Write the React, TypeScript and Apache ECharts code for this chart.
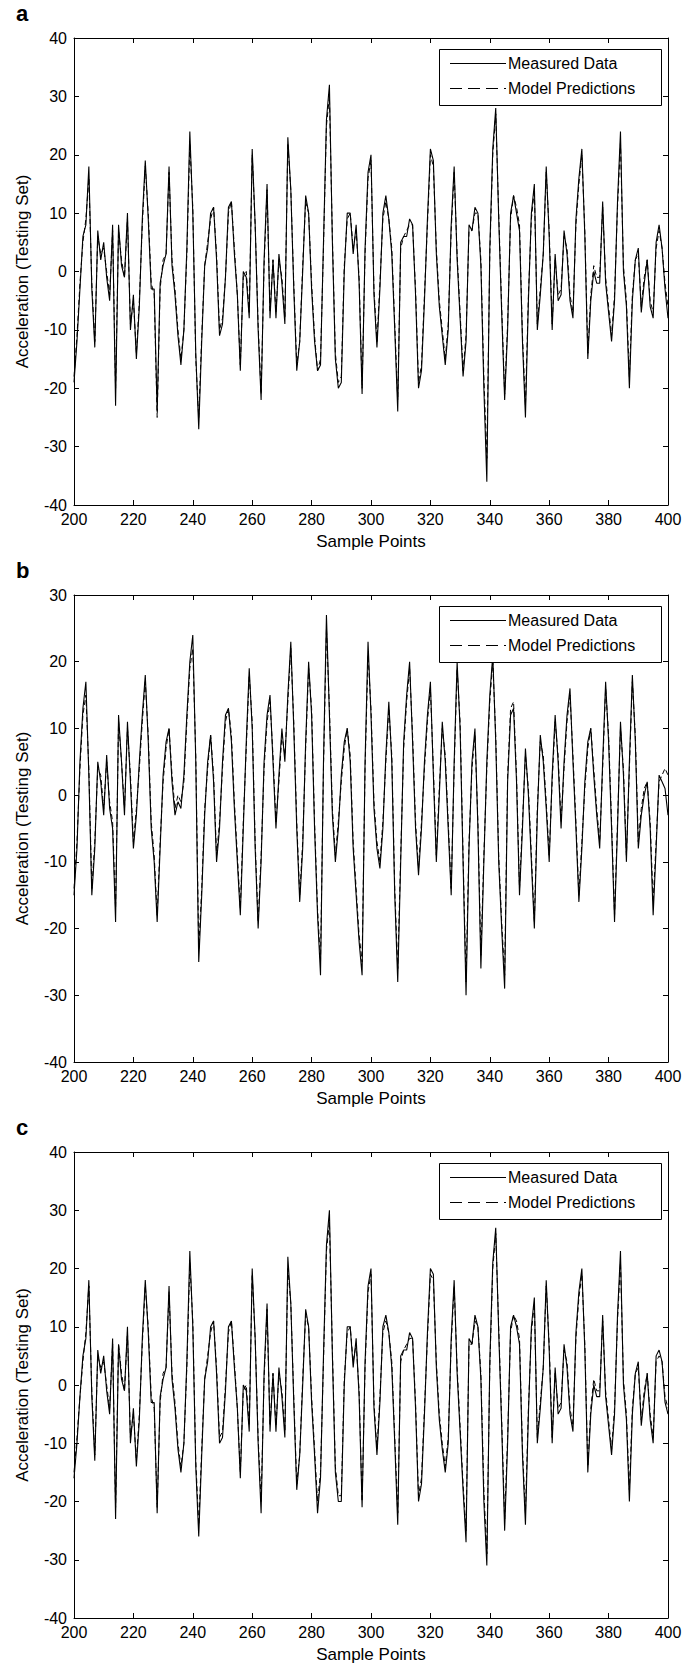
import React, { useEffect, useRef } from "react";
import * as echarts from "echarts";

const FONT = "'Liberation Sans', Arial, Helvetica, sans-serif";

// Sample index (x axis), 200..400
const samplePoints: number[] = Array.from({ length: 201 }, (_, i) => 200 + i);
const xMin = 200;
const xMax = 400;
const xStep = 20;

const measuredA = [
  -19, -12, -3, 6, 8, 18, -3, -13, 7, 2,
  5, -1, -5, 8, -23, 8, 1, -1, 10, -10,
  -4, -15, -6, 9, 19, 9, -3, -3, -24, -2,
  1, 3, 18, 1, -4, -11, -16, -10, 4, 24,
  10, -14, -27, -12, 1, 4, 10, 11, 2, -11,
  -9, -1, 11, 12, 3, -4, -17, 0, -1, -8,
  21, 8, -10, -22, 2, 15, -8, 2, -8, 3,
  -2, -9, 23, 14, -3, -17, -12, 0, 13, 10,
  -3, -12, -17, -16, 5, 26, 32, 5, -15, -20,
  -19, 0, 10, 10, 3, 8, -2, -21, 4, 17,
  20, -4, -13, -3, 10, 13, 9, 3, -10, -24,
  5, 6, 6, 9, 8, -4, -20, -17, -5, 9,
  21, 19, 3, -6, -11, -16, -10, 8, 18, 2,
  -8, -18, -12, 8, 7, 11, 10, 1, -20, -36,
  4, 21, 28, 9, -7, -22, -10, 10, 13, 10,
  7, -12, -25, -5, 10, 15, -10, -4, 3, 18,
  6, -10, 3, -5, -4, 7, 3, -5, -8, 9,
  16, 21, 6, -15, -5, 0, -2, -2, 12, -2,
  -7, -12, -5, 12, 24, 0, -6, -20, -5, 2,
  4, -7, -2, 2, -6, -8, 5, 8, 4, -3,
  -8,
];

const predictedA = [
  -18, -11, -2, 5, 9, 16, -2, -12, 6, 3,
  4, 0, -4, 7, -20, 7, 2, -1, 9, -9,
  -5, -14, -5, 8, 18, 10, -2, -4, -25, -3,
  2, 3, 17, 2, -3, -10, -15, -10, 3, 22,
  11, -15, -25, -11, 1, 5, 9, 11, 3, -10,
  -8, -1, 10, 12, 4, -4, -16, -1, 0, -7,
  20, 8, -9, -21, 1, 14, -7, 2, -7, 2,
  -1, -8, 22, 14, -2, -16, -12, 1, 12, 10,
  -2, -11, -17, -15, 4, 25, 30, 6, -14, -19,
  -18, 1, 9, 10, 4, 7, -1, -20, 3, 16,
  19, -3, -12, -2, 9, 12, 9, 4, -9, -22,
  4, 6, 7, 8, 8, -3, -19, -16, -4, 8,
  20, 18, 4, -5, -10, -15, -9, 7, 17, 3,
  -7, -17, -11, 7, 7, 10, 10, 2, -18, -32,
  3, 20, 27, 10, -6, -21, -9, 9, 13, 11,
  8, -11, -23, -4, 9, 14, -9, -3, 3, 17,
  7, -9, 2, -4, -3, 6, 4, -4, -7, 8,
  15, 20, 7, -14, -4, 1, -1, -1, 11, -1,
  -6, -11, -4, 11, 22, 1, -5, -18, -4, 2,
  3, -6, -1, 2, -5, -7, 4, 7, 4, -2,
  -6,
];

const measuredB = [
  -15, -8, 5, 13, 17, 3, -15, -8, 5, 2,
  -3, 6, -2, -5, -19, 12, 5, -3, 11, 2,
  -8, -3, 5, 12, 18, 8, -5, -10, -19, -8,
  3, 8, 10, 2, -3, -1, -2, 3, 12, 20,
  24, 5, -25, -15, -3, 5, 9, 2, -10, -5,
  5, 12, 13, 8, -2, -10, -18, -5, 8, 19,
  10, -8, -20, -10, 5, 12, 15, 5, -5, 3,
  10, 5, 15, 23, 10, -5, -16, -8, 8, 20,
  12, -5, -18, -27, 5, 27, 12, -3, -10, -5,
  3, 8, 10, 5, -8, -15, -22, -27, 5, 23,
  12, -2, -8, -11, -5, 6, 14, 5, -15, -28,
  -10, 8, 15, 20, 8, -5, -12, -5, 5, 12,
  17, 3, -10, 0, 11, 5, -5, -15, 5, 20,
  10, -10, -30, -8, 5, 10, -5, -26, -10, 5,
  15, 21, 8, -10, -20, -29, 2, 12, 13, 2,
  -15, -5, 7, 0, -10, -20, -3, 9, 5, -2,
  -10, 3, 12, 5, -5, 5, 12, 16, 5, -5,
  -16, -8, 2, 8, 10, 3, -3, -8, 5, 17,
  8, -5, -19, -5, 11, 3, -10, 5, 18, 8,
  -8, -3, 0, 2, -5, -18, -8, 3, 2, 1,
  -3,
];

const predictedB = [
  -14, -7, 4, 12, 15, 4, -14, -7, 4, 3,
  -2, 5, -1, -4, -17, 11, 5, -2, 10, 3,
  -7, -2, 4, 11, 17, 9, -4, -9, -18, -7,
  2, 7, 10, 3, -2, 0, -1, 2, 11, 19,
  22, 6, -23, -14, -2, 4, 9, 3, -9, -4,
  4, 11, 13, 9, -1, -9, -17, -4, 7, 18,
  11, -7, -19, -9, 4, 11, 14, 6, -4, 2,
  9, 6, 14, 22, 11, -4, -15, -7, 7, 19,
  13, -4, -17, -25, 4, 25, 13, -2, -9, -4,
  2, 7, 10, 6, -7, -14, -21, -25, 4, 21,
  13, -1, -7, -10, -4, 5, 13, 6, -14, -26,
  -9, 7, 14, 19, 9, -4, -11, -4, 4, 11,
  16, 4, -9, 1, 10, 6, -4, -14, 4, 19,
  11, -9, -28, -7, 4, 9, -4, -24, -9, 4,
  14, 20, 9, -9, -19, -27, 3, 13, 14, 3,
  -14, -4, 6, 1, -9, -19, -2, 8, 6, -1,
  -9, 2, 11, 6, -4, 4, 11, 15, 6, -4,
  -15, -7, 1, 7, 10, 4, -2, -7, 4, 16,
  9, -4, -18, -4, 10, 4, -9, 4, 17, 9,
  -7, -2, 1, 2, -4, -16, -7, 2, 3, 4,
  3,
];

const measuredC = [
  -16, -10, -2, 5, 8, 18, -2, -13, 6, 2,
  5, -1, -5, 8, -23, 7, 1, -1, 10, -10,
  -4, -14, -6, 8, 18, 9, -3, -3, -22, -2,
  1, 3, 17, 1, -4, -11, -15, -10, 4, 23,
  10, -14, -26, -12, 1, 4, 10, 11, 2, -10,
  -9, -1, 10, 11, 3, -4, -16, 0, -1, -8,
  20, 8, -10, -22, 2, 14, -8, 2, -8, 3,
  -2, -9, 22, 14, -3, -18, -12, 0, 13, 10,
  -3, -12, -22, -16, 5, 24, 30, 5, -15, -20,
  -20, 0, 10, 10, 3, 8, -2, -21, 4, 17,
  20, -4, -12, -3, 10, 12, 9, 3, -10, -24,
  5, 6, 6, 9, 8, -4, -20, -17, -5, 9,
  20, 19, 3, -6, -11, -15, -10, 8, 18, 2,
  -8, -18, -27, 8, 7, 12, 10, 1, -20, -31,
  4, 21, 27, 9, -7, -25, -10, 10, 12, 10,
  7, -12, -24, -5, 10, 15, -10, -4, 3, 18,
  6, -10, 3, -5, -4, 7, 3, -5, -8, 9,
  16, 20, 6, -15, -5, 0, -2, -2, 12, -2,
  -7, -12, -5, 12, 23, 0, -6, -20, -5, 2,
  4, -7, -2, 2, -6, -10, 5, 6, 4, -3,
  -5,
];

const predictedC = [
  -15, -9, -2, 4, 9, 17, -1, -12, 5, 3,
  4, 0, -4, 7, -21, 7, 2, -1, 9, -9,
  -5, -13, -5, 7, 17, 10, -2, -4, -21, -3,
  2, 3, 16, 2, -3, -10, -14, -10, 3, 21,
  11, -13, -24, -11, 1, 5, 9, 11, 3, -9,
  -8, 0, 9, 11, 4, -4, -15, -1, 0, -7,
  19, 8, -9, -20, 1, 13, -7, 2, -7, 2,
  -1, -8, 20, 14, -2, -17, -12, 1, 12, 10,
  -2, -11, -20, -15, 4, 23, 28, 6, -14, -19,
  -19, 1, 9, 10, 4, 7, -1, -20, 3, 16,
  19, -3, -11, -2, 9, 11, 9, 4, -9, -22,
  4, 6, 7, 8, 8, -3, -19, -16, -4, 8,
  19, 18, 4, -5, -10, -14, -9, 7, 17, 3,
  -7, -17, -25, 7, 7, 11, 10, 2, -18, -29,
  3, 20, 26, 10, -6, -23, -9, 9, 12, 11,
  8, -11, -22, -4, 9, 14, -9, -3, 3, 17,
  7, -9, 2, -4, -3, 6, 4, -4, -7, 8,
  15, 19, 7, -14, -4, 1, -1, -1, 11, -1,
  -6, -11, -4, 11, 21, 1, -5, -18, -4, 2,
  3, -6, -1, 2, -5, -9, 4, 5, 4, -2,
  -4,
];

const panelLabels = ["a", "b", "c"];
const yMins = [-40, -40, -40];
const yMaxs = [40, 30, 40];
const yStep = 10;
const measuredSeries = [measuredA, measuredB, measuredC];
const predictedSeries = [predictedA, predictedB, predictedC];
const legendNames = ["Measured Data", "Model Predictions"];
const xTitle = "Sample Points";
const yTitle = "Acceleration (Testing Set)";

// layout (pixels)
const GRID_LEFT = 74;
const GRID_WIDTH = 594;
const GRID_TOPS = [38, 595, 1152];
const GRID_HEIGHTS = [467, 467, 466];

export default function App() {
  const ref = useRef<HTMLDivElement>(null);

  useEffect(() => {
    if (!ref.current) return;
    const chart = echarts.init(ref.current, undefined, { renderer: "svg" });

    const grids: any[] = [];
    const xAxes: any[] = [];
    const yAxes: any[] = [];
    const series: any[] = [];
    const graphics: any[] = [];

    const axisCommon = {
      axisLine: { show: true, onZero: false, lineStyle: { color: "#000", width: 1 } },
      axisTick: { show: true, inside: true, length: 5, lineStyle: { color: "#000", width: 1 } },
      splitLine: { show: false },
    };
    const labelStyle = { color: "#000", fontSize: 16, fontFamily: FONT };
    const titleStyle = { color: "#000", fontSize: 17, fontFamily: FONT };

    for (let i = 0; i < 3; i++) {
      const top = GRID_TOPS[i];
      grids.push({ left: GRID_LEFT, top, width: GRID_WIDTH, height: GRID_HEIGHTS[i], containLabel: false });

      xAxes.push({
        type: "value", gridIndex: i, position: "bottom", min: xMin, max: xMax, interval: xStep,
        ...axisCommon,
        axisLabel: { ...labelStyle, margin: 6 },
        name: xTitle, nameLocation: "middle", nameGap: 28,
        nameTextStyle: { ...titleStyle },
      });
      xAxes.push({
        type: "value", gridIndex: i, position: "top", min: xMin, max: xMax, interval: xStep,
        ...axisCommon,
        axisLabel: { show: false },
      });
      yAxes.push({
        type: "value", gridIndex: i, position: "left", min: yMins[i], max: yMaxs[i], interval: yStep,
        ...axisCommon,
        axisLabel: { ...labelStyle, margin: 7 },
        name: yTitle, nameLocation: "middle", nameGap: 43, nameRotate: 90,
        nameTextStyle: { ...titleStyle },
      });
      yAxes.push({
        type: "value", gridIndex: i, position: "right", min: yMins[i], max: yMaxs[i], interval: yStep,
        ...axisCommon,
        axisLabel: { show: false },
      });

      series.push({
        type: "line", name: legendNames[0], xAxisIndex: 2 * i, yAxisIndex: 2 * i,
        data: samplePoints.map((s, k) => [s, measuredSeries[i][k]]),
        symbol: "none", showSymbol: false,
        lineStyle: { color: "#000", width: 1.1 },
        z: 2,
      });
      series.push({
        type: "line", name: legendNames[1], xAxisIndex: 2 * i, yAxisIndex: 2 * i,
        data: samplePoints.map((s, k) => [s, predictedSeries[i][k]]),
        symbol: "none", showSymbol: false,
        lineStyle: { color: "#000", width: 1, type: [5, 3] },
        z: 3,
      });

      // panel letter
      graphics.push({
        type: "text", x: 16, y: top - 14, z: 100,
        style: { text: panelLabels[i], font: `bold 22px ${FONT}`, fill: "#000", verticalAlign: "bottom" },
      });

      // legend box
      graphics.push({
        type: "group", z: 100,
        children: [
          {
            type: "rect", z: 100,
            shape: { x: 439.5, y: top + 11.5, width: 222, height: 56 },
            style: { fill: "#fff", stroke: "#000", lineWidth: 1 },
          },
          {
            type: "line", z: 101,
            shape: { x1: 450, y1: top + 25.5, x2: 506, y2: top + 25.5 },
            style: { stroke: "#000", lineWidth: 1 },
          },
          {
            type: "line", z: 101,
            shape: { x1: 450, y1: top + 50.5, x2: 506, y2: top + 50.5 },
            style: { stroke: "#000", lineWidth: 1, lineDash: [12, 6] },
          },
          {
            type: "text", z: 101, x: 508, y: top + 25,
            style: { text: legendNames[0], font: `16px ${FONT}`, fill: "#000", verticalAlign: "middle" },
          },
          {
            type: "text", z: 101, x: 508, y: top + 50,
            style: { text: legendNames[1], font: `16px ${FONT}`, fill: "#000", verticalAlign: "middle" },
          },
        ],
      });
    }

    chart.setOption({
      animation: false,
      backgroundColor: "#fff",
      grid: grids,
      xAxis: xAxes,
      yAxis: yAxes,
      series,
      graphic: graphics,
    });

    return () => chart.dispose();
  }, []);

  return (
    <div
      ref={ref}
      style={{ position: "absolute", left: 0, top: 0, width: 695, height: 1668, background: "#fff" }}
    />
  );
}
